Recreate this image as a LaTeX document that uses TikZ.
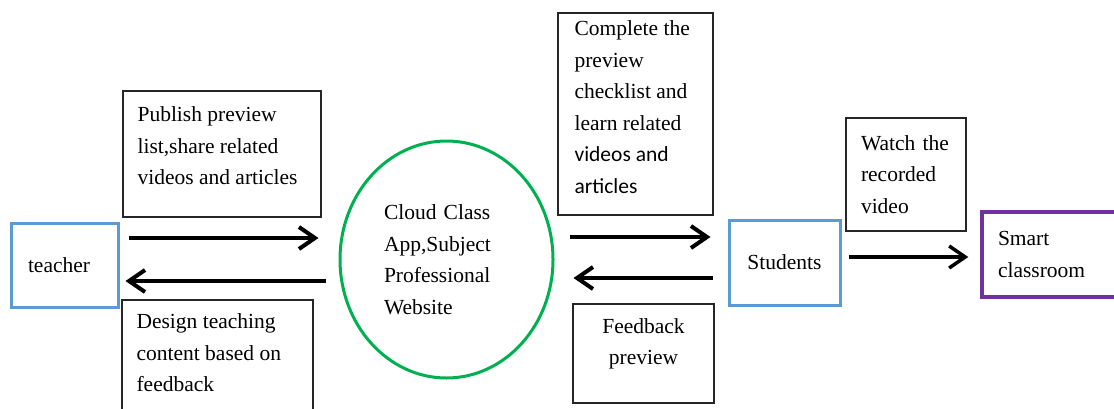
\documentclass[tikz,border=0pt]{standalone}
\usepackage{fontspec}
\setmainfont{Liberation Serif}
\newfontfamily\carlito{Carlito}
\usetikzlibrary{positioning,shapes.geometric,arrows.meta}

\definecolor{actorblue}{HTML}{5B9BD5}
\definecolor{appgreen}{HTML}{00B050}
\definecolor{smartpurple}{HTML}{7030A0}

\tikzset{
  txt/.style={font=\fontsize{21.5}{31.5}\selectfont, align=left, inner sep=0pt},
  note/.style={draw=black!85, line width=1.3pt, rectangle, inner sep=0pt},
  actor/.style={draw=actorblue, line width=3pt, rectangle, txt},
  flow/.style={line width=4pt, -{Straight Barb[length=16pt, width=22pt]}},
}

\begin{document}
\begin{tikzpicture}[x=1pt, y=-1pt]
  \useasboundingbox (0,0) rectangle (1114,408);
  \clip (0,0) rectangle (1114,408);

  % actors
  \node[actor, minimum width=107pt, minimum height=84pt, inner xsep=17pt,
    text width=73pt] (teacher) at (64.5,265) {teacher};
  \node[actor, minimum width=111pt, minimum height=85pt, align=center]
    (students) at (784.5,262.5) {Students};
  \node[actor, draw=smartpurple, line width=3.5pt, minimum height=85pt,
    inner xsep=16pt, text width=108pt] (smart) at (1052,254.5) {Smart\\classroom};

  % platform
  \node[ellipse, draw=appgreen, line width=3pt, txt, minimum width=213pt,
    minimum height=237pt, text width=125pt] (platform) at (446.5,259.5)
    {Cloud Class\\App,Subject\\Professional\\Website};

  % notes
  \node[note, minimum width=198pt, minimum height=126pt] (publish) at (222,154) {};
  \node[txt, below right=16.5pt and 15pt of publish.north west] (publish-txt)
    {Publish preview\\list,share related\\videos and articles};

  \node[note, minimum width=191pt, minimum height=112pt] (design) at (217.5,356) {};
  \node[txt, below right=14.5pt and 15pt of design.north west] (design-txt)
    {Design teaching\\content based on\\feedback};

  \node[note, minimum width=155pt, minimum height=202pt] (preview) at (635.5,114) {};
  \node[txt, below right=8.5pt and 17pt of preview.north west] (preview-txt)
    {Complete the\\preview\\checklist and\\learn related\\{\carlito videos and}\\{\carlito articles}};

  \node[note, minimum width=141pt, minimum height=99pt] (feedback) at (643.5,353.5) {};
  \node[txt, align=center, below=14.7pt of feedback.north] (feedback-txt)
    {Feedback\\preview};

  \node[note, txt, minimum width=120pt, minimum height=113pt, inner xsep=15pt,
    text width=90pt] (watch) at (906,174.5) {Watch the\\recorded\\video};

  % flows
  \draw[flow] ([shift={(9,-27)}]teacher.east) -- ([shift={(-20,-21.5)}]platform.west);
  \draw[flow] ([shift={(-13,21.5)}]platform.west) -- ([shift={(6,16)}]teacher.east);
  \draw[flow] ([shift={(15,-22.5)}]platform.east) -- ([shift={(-17,-25.5)}]students.west);
  \draw[flow] ([shift={(-15,15.5)}]students.west) -- ([shift={(19,18.5)}]platform.east);
  \draw[flow, line width=3.5pt] ([shift={(7,-5.5)}]students.east) -- ([shift={(-12,2.5)}]smart.west);
\end{tikzpicture}
\end{document}
